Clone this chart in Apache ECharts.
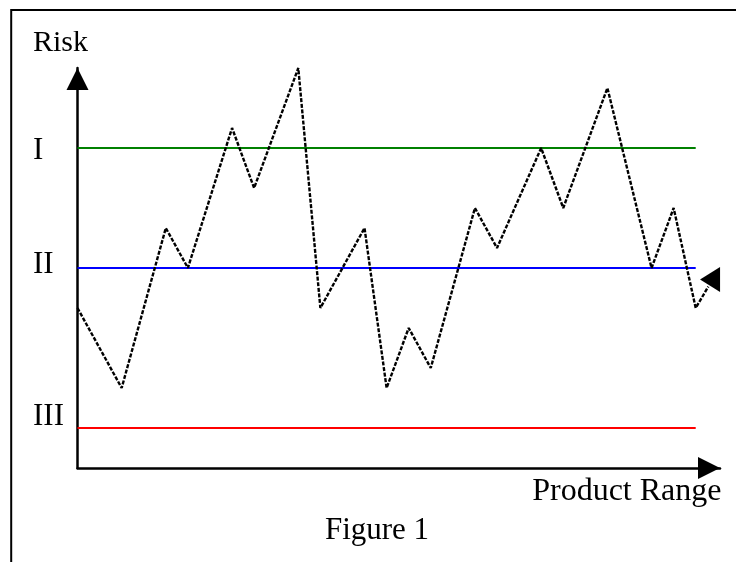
<!DOCTYPE html>
<html><head><meta charset="utf-8">
<script src="https://cdn.jsdelivr.net/npm/echarts@6/dist/echarts.min.js"></script>
<style>html,body{margin:0;padding:0;background:#fff}#c{width:736px;height:562px}</style>
</head><body><div id="c"></div>
<script>
// ---- data ----
const productIndex = [0, 2, 4, 5, 7, 8, 10, 11, 13, 14, 15, 16, 18, 19, 21, 22, 24, 26, 27, 28, 28.57];
const riskValues   = [8, 4, 12, 10, 17, 14, 20, 8, 12, 4, 7, 5, 13, 11, 16, 13, 19, 10, 13, 8, 9.07];
const levelNames  = ['I', 'II', 'III'];
const levelValues = [16, 10, 2];
const levelStart = 0;
const levelEnd = 28;
const endArrowPoint = [28.65, 9.43];
const yAxisName = 'Risk';
const xAxisName = 'Product Range';
const figureTitle = 'Figure 1';

// ---- styles / layout ----
const levelColors = ['#008000', '#0000ff', '#ff0000'];
const levelLabelDy = [2.8, -2.7, -11];
const FAMILY = '"Liberation Serif", "Times New Roman", serif';

const chart = echarts.init(document.getElementById('c'), null, {renderer: 'canvas'});

const mainLine = productIndex.map((x, i) => [x, riskValues[i]]);
const levelSeries = levelNames.map((n, i) => ({
  name: n, type: 'line', symbol: 'none', z: 2,
  data: [[levelStart, levelValues[i]], [levelEnd, levelValues[i]]],
  lineStyle: {color: levelColors[i], width: 2, opacity: 1}
}));

chart.setOption({
  animation: false,
  backgroundColor: '#fff',
  grid: {left: 77.5, right: 16, top: 68, bottom: 94, containLabel: false},
  xAxis: {
    type: 'value', min: 0, max: 29.1,
    axisLine: {show: true, onZero: false, lineStyle: {color: '#000', width: 2.5},
      symbol: ['none', 'triangle'], symbolSize: [22, 22], symbolOffset: [0, -11]},
    axisTick: {show: false}, axisLabel: {show: false}, splitLine: {show: false}
  },
  yAxis: {
    type: 'value', min: 0, max: 20,
    axisLine: {show: true, onZero: false, lineStyle: {color: '#000', width: 2.5},
      symbol: ['none', 'triangle'], symbolSize: [22, 22], symbolOffset: [0, -11]},
    axisTick: {show: false}, axisLabel: {show: false}, splitLine: {show: false}
  },
  series: levelSeries.concat([
    {
      name: 'risk', type: 'line', symbol: 'none', z: 3,
      data: mainLine,
      lineStyle: {color: '#000', width: 2.4, type: [4, 1.6], opacity: 1}
    },
    {
      name: 'arrow', type: 'scatter', z: 4,
      data: [endArrowPoint],
      symbol: 'triangle', symbolRotate: 90, symbolSize: [25, 20],
      itemStyle: {color: '#000', opacity: 1}
    }
  ])
});

function txt(text, x, y, align, size) {
  return {type: 'text', x: x, y: y, z: 10, style: {
    text: text, font: size + 'px ' + FAMILY, fill: '#000',
    align: align, textAlign: align, verticalAlign: 'middle', textVerticalAlign: 'middle'
  }};
}
const els = [];
// frame (top + left)
els.push({type: 'polyline', z: 1, shape: {points: [[11.2, 562], [11.2, 10], [736, 10]]},
  style: {stroke: '#000', lineWidth: 2, fill: null}});
levelNames.forEach((n, i) => {
  const p = chart.convertToPixel({gridIndex: 0}, [levelStart, levelValues[i]]);
  els.push(txt(n, 33, p[1] + levelLabelDy[i], 'left', 31));
});
const yTopPx = chart.convertToPixel({gridIndex: 0}, [0, 20]);
els.push(txt(yAxisName, 33, yTopPx[1] - 24.7, 'left', 30));
const xEndPx = chart.convertToPixel({gridIndex: 0}, [29.1, 0]);
els.push(txt(xAxisName, xEndPx[0] + 1.5, xEndPx[1] + 23.3, 'right', 32));
els.push(txt(figureTitle, 377, xEndPx[1] + 62.5, 'center', 31));
chart.setOption({graphic: {elements: els}});
</script></body></html>
